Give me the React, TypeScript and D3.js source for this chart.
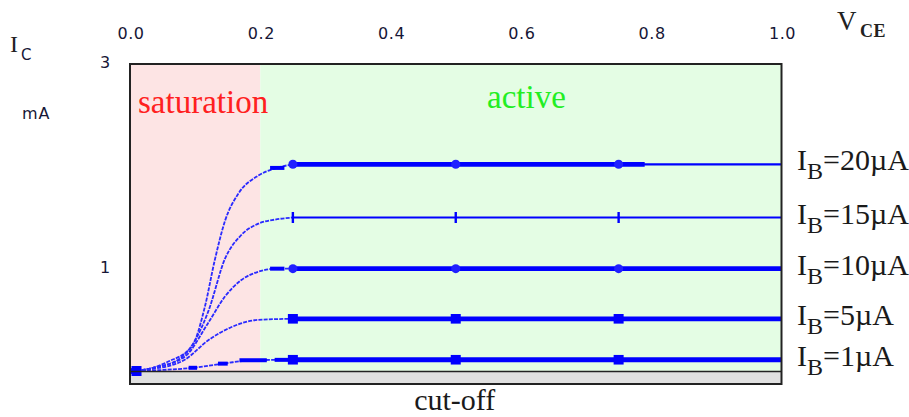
import React from 'react';
import * as d3 from 'd3';

// ---- data ----
const xTickValues = [0, 0.2, 0.4, 0.6, 0.8, 1.0];
const xTickLabels = ['0.0', '0.2', '0.4', '0.6', '0.8', '1.0'];
const yTickValues = [3, 1];
const yTickLabels = ['3', '1'];

const seriesLabels = ['20µA', '15µA', '10µA', '5µA', '1µA'];
const plateauCurrents = [2.02, 1.5, 1.0, 0.51, 0.11];
const markerVoltages = [0.25, 0.5, 0.75];
const markerShapes = ['circle', 'tick', 'circle', 'square', 'square'];
const plateauWide = [true, false, true, true, true];
const wideEndVoltage = [0.79, 1.0, 1.0, 1.0, 1.0];

const curve20: [number, number][] = [[0.01, 0], [0.035, 0.03], [0.058, 0.09], [0.095, 0.24], [0.115, 0.63], [0.13, 1.08], [0.146, 1.47], [0.166, 1.73], [0.197, 1.91], [0.223, 1.98], [0.25, 2.02]];
const curve15: [number, number][] = [[0.01, 0], [0.035, 0.03], [0.074, 0.11], [0.1, 0.3], [0.12, 0.58], [0.146, 1.1], [0.171, 1.33], [0.197, 1.44], [0.223, 1.48], [0.25, 1.5]];
const curve10: [number, number][] = [[0.01, 0], [0.035, 0.03], [0.084, 0.14], [0.12, 0.47], [0.146, 0.73], [0.171, 0.89], [0.197, 0.97], [0.223, 1.0], [0.25, 1.0]];
const curve5: [number, number][] = [[0.01, 0], [0.035, 0.02], [0.084, 0.11], [0.12, 0.3], [0.156, 0.43], [0.197, 0.5], [0.25, 0.51]];
const curve1: [number, number][] = [[0.01, 0], [0.05, 0.01], [0.095, 0.03], [0.146, 0.075], [0.187, 0.105], [0.25, 0.11]];
const saturationCurves = [curve20, curve15, curve10, curve5, curve1];

// thick dash segments on the knee (voltage ranges)
const kneeDashes: [number, number][][] = [
  [[0.215, 0.237]],
  [],
  [[0.215, 0.237]],
  [],
  [[0.09, 0.103], [0.135, 0.15], [0.168, 0.21], [0.222, 0.25]],
];

const regionLabels = ['saturation', 'active', 'cut-off'];

// ---- layout ----
const W = 909;
const H = 417;
const X0 = 130;
const X1 = 781.5;
const YTOP = 64;
const Y0 = 371;
const YBOT = 384;

const SERIF = "'Liberation Serif', 'Times New Roman', Times, serif";
const SANS = "'DejaVu Sans', Verdana, sans-serif";

export default function App() {
  const x = d3.scaleLinear().domain([0, 1]).range([X0, X1]);
  const y = d3.scaleLinear().domain([0, 3]).range([Y0, YTOP]);
  const line = d3
    .line<[number, number]>()
    .x((d) => x(d[0]))
    .y((d) => y(d[1]))
    .curve(d3.curveMonotoneX);

  const blue = '#0000ff';
  const tickColor = '#161636';

  const curveAt = (i: number, v: number) =>
    d3
      .scaleLinear()
      .domain(saturationCurves[i].map((p) => p[0]))
      .range(saturationCurves[i].map((p) => p[1]))(v);

  return (
    <svg width={W} height={H} style={{ position: 'absolute', left: 0, top: 0 }}>
      {/* background regions */}
      <rect x={x(0)} y={YTOP} width={x(0.2) - x(0)} height={Y0 - YTOP} fill="#fde4e4" />
      <rect x={x(0.2)} y={YTOP} width={x(1) - x(0.2)} height={Y0 - YTOP} fill="#e4fde4" />
      <rect x={x(0)} y={Y0} width={x(1) - x(0)} height={YBOT - Y0} fill="#e0e0e0" />

      {/* saturation curves */}
      {saturationCurves.map((c, i) => (
        <path key={'c' + i} d={line(c) || ''} fill="none" stroke="#2a2aff" strokeWidth={1.8} strokeDasharray="4 1.2" />
      ))}
      {kneeDashes.map((segs, i) =>
        segs.map((s, j) => {
          const yy = y(curveAt(i, (s[0] + s[1]) / 2));
          return <line key={'k' + i + '-' + j} x1={x(s[0])} x2={x(s[1])} y1={yy} y2={yy} stroke={blue} strokeWidth={4} />;
        })
      )}

      {/* plateau lines */}
      {plateauCurrents.map((v, i) => (
        <g key={'p' + i}>
          <line x1={x(0.25)} x2={x(1)} y1={y(v)} y2={y(v)} stroke={blue} strokeWidth={2.2} />
          {plateauWide[i] && (
            <line x1={x(0.25)} x2={x(wideEndVoltage[i])} y1={y(v)} y2={y(v)} stroke={blue} strokeWidth={4.8} />
          )}
        </g>
      ))}

      {/* markers */}
      {plateauCurrents.map((v, i) =>
        markerVoltages.map((mv, j) => {
          const cx = x(mv);
          const cy = y(v);
          if (markerShapes[i] === 'circle')
            return <circle key={'m' + i + j} cx={cx} cy={cy} r={4.5} fill="#2020ff" />;
          if (markerShapes[i] === 'tick')
            return <rect key={'m' + i + j} x={cx - 1.2} y={cy - 5.5} width={2.4} height={11} fill={blue} />;
          return <rect key={'m' + i + j} x={cx - 5} y={cy - 4.8} width={10} height={9.6} fill={blue} />;
        })
      )}
      {/* origin markers */}
      <rect x={x(0.01) - 5} y={y(0) - 5} width={10} height={10} fill={blue} />
      <circle cx={x(0.01) - 3} cy={y(0)} r={3.5} fill={blue} />

      {/* frame */}
      <line x1={x(0)} x2={x(1)} y1={Y0 + 0.5} y2={Y0 + 0.5} stroke="#222" strokeWidth={1.6} />
      <rect x={x(0)} y={YTOP} width={x(1) - x(0)} height={YBOT - YTOP} fill="none" stroke="#222" strokeWidth={2} />

      {/* x tick labels */}
      {xTickValues.map((t, i) => (
        <text key={'xt' + i} x={x(t) + 1} y={39} textAnchor="middle" fontFamily={SANS} fontSize={16} letterSpacing={0.6} fill={tickColor}>
          {xTickLabels[i]}
        </text>
      ))}
      {/* y tick labels */}
      {yTickValues.map((t, i) => (
        <text key={'yt' + i} x={105} y={y(t) + 4} textAnchor="middle" fontFamily={SANS} fontSize={16} fill={tickColor}>
          {yTickLabels[i]}
        </text>
      ))}

      {/* axis titles */}
      <text x={10} y={52} fontFamily={SERIF} fontSize={24} fill="#222">I</text>
      <text x={21} y={60} fontFamily={SANS} fontSize={15} fill={tickColor}>C</text>
      <text x={22} y={119} fontFamily={SANS} fontSize={16} letterSpacing={1} fill={tickColor}>mA</text>
      <text x={837} y={30} fontFamily={SERIF} fontSize={27} fill="#222">V</text>
      <text x={860} y={37} fontFamily={SERIF} fontWeight="bold" fontSize={18} letterSpacing={0.5} fill="#222">CE</text>

      {/* region labels */}
      <text x={138} y={113} fontFamily={SERIF} fontSize={33} fill="#ff2020">{regionLabels[0]}</text>
      <text x={487} y={108} fontFamily={SERIF} fontSize={33} fill="#22ee22">{regionLabels[1]}</text>
      <text x={(x(0) + x(1)) / 2 - 1} y={410} textAnchor="middle" fontFamily={SERIF} fontSize={30} fill="#1a1a1a">{regionLabels[2]}</text>

      {/* series labels */}
      {plateauCurrents.map((v, i) => (
        <text key={'sl' + i} x={797} y={y(v) + 6} fontFamily={SERIF} fontSize={30} fill="#1a1a1a">
          I<tspan fontSize={24} dy={9}>B</tspan>
          <tspan dy={-9}>={seriesLabels[i]}</tspan>
        </text>
      ))}
    </svg>
  );
}
